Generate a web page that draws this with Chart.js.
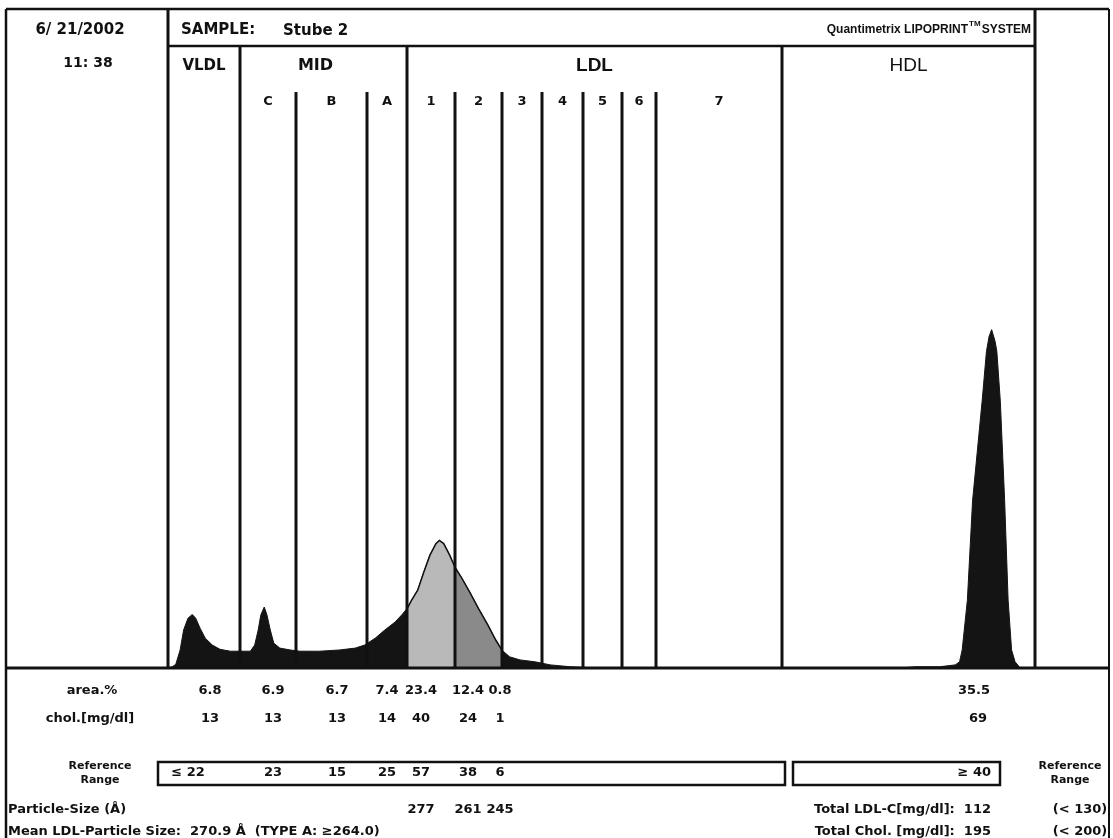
<!DOCTYPE html>
<html>
<head>
<meta charset="utf-8">
<script src="https://cdn.jsdelivr.net/npm/chart.js"></script>
<style>
    body { margin: 0; background: #fff; }
    #wrap { width: 1113px; height: 838px; position: relative; }
</style>
</head>
<body>
<div id="wrap"><canvas id="lipoChart"></canvas></div>
<script>
    // densitometer scan: relative mobility along the gel (0..100) and band intensity (0..100)
    var mobility = [0.0, 0.5, 0.9, 1.4, 1.8, 2.3, 2.8, 3.2, 3.7, 4.3, 5.1, 6.0, 7.2, 8.3, 9.5,
        10.0, 10.4, 10.7, 11.1, 11.4, 11.8, 12.2, 12.9, 14.1, 15.2, 17.5, 19.8, 21.6, 22.7,
        23.9, 25.0, 26.2, 27.0, 27.6, 28.1, 28.8, 29.5, 30.2, 30.9, 31.3, 31.8, 32.5, 33.1,
        33.9, 34.8, 35.8, 36.9, 37.8, 38.5, 39.4, 40.6, 42.3, 44.1, 46.4, 49.8, 84.4, 86.2,
        89.0, 90.8, 91.3, 91.6, 92.2, 92.8, 93.9, 94.4, 94.7, 95.0, 95.4, 95.6, 96.0, 96.5,
        96.9, 97.3, 97.7, 98.3, 100];
    var intensity = [0.0, 0.2, 0.6, 2.9, 6.1, 8.0, 8.6, 8.0, 6.4, 4.8, 3.7, 3.0, 2.7, 2.7, 2.7,
        3.7, 6.1, 8.5, 9.8, 8.6, 6.1, 4.0, 3.2, 2.9, 2.7, 2.7, 2.9, 3.2, 3.7,
        4.8, 6.1, 7.4, 8.6, 9.6, 10.9, 12.5, 15.4, 18.1, 20.0, 20.5, 20.0, 18.1, 16.2,
        14.4, 12.2, 9.6, 6.9, 4.5, 2.9, 1.8, 1.3, 1.0, 0.5, 0.2, 0.0, 0.0, 0.2,
        0.2, 0.5, 1.0, 2.9, 10.9, 26.9, 42.9, 50.9, 53.3, 54.4, 52.5, 50.9, 42.9, 26.9,
        10.9, 2.9, 1.0, 0.0, 0.0];

    // fraction borders, same units as mobility
    var fractionNames = ['VLDL', 'C', 'B', 'A', '1', '2', '3', '4', '5', '6', '7', 'HDL'];
    var fractionEdges = [0, 8.3, 14.8, 23.0, 27.6, 33.1, 38.5, 43.1, 47.9, 52.4, 56.3, 70.8, 100];

    // result table (VLDL, MID C, B, A, LDL 1, 2, 3) + HDL
    var areaPct = ['6.8', '6.9', '6.7', '7.4', '23.4', '12.4', '0.8'];
    var cholMg = ['13', '13', '13', '14', '40', '24', '1'];
    var refRange = ['\u2264 22', '23', '15', '25', '57', '38', '6'];
    var particleSize = ['', '', '', '', '277', '261', '245'];
    var hdlArea = '35.5';
    var hdlChol = '69';
    var hdlRef = '\u2265 40';
    var totalLdlC = 112, totalLdlRef = '(< 130)';
    var totalChol = 195, totalCholRef = '(< 200)';
    var meanLdlSize = '270.9';

    var points = mobility.map(function (m, i) { return { x: m, y: intensity[i] }; });
    function slice(from, to) {
        return points.filter(function (p) { return p.x >= from && p.x <= to; });
    }

    var colX = [210, 273, 337, 387, 421, 468, 500]; // table column centres (px)
    var hdlX = 974;
    var DV = '"DejaVu Sans", Verdana, sans-serif';
    var LS = '"Liberation Sans", Arial, sans-serif';

    var decor = {
        id: 'decor',
        afterDatasetsDraw: function (chart) {
            var ctx = chart.ctx;
            var xs = chart.scales.x;
            var area = chart.chartArea;
            var px = function (v) { return Math.round(xs.getPixelForValue(v)); };
            var L = 6, R = 1109, T = 9, base = area.bottom;

            ctx.save();
            ctx.strokeStyle = '#111';
            ctx.fillStyle = '#111';

            function line(x1, y1, x2, y2, w) {
                ctx.lineWidth = w;
                ctx.beginPath();
                ctx.moveTo(x1, y1);
                ctx.lineTo(x2, y2);
                ctx.stroke();
            }
            // outer frame + baseline
            line(L, T, R, T, 2.5);
            line(L, T, L, 838, 2.5);
            line(R, T, R, 838, 2);
            line(L, base, R, base, 3);
            // header box bottom
            line(px(0), area.top, px(100), area.top, 2.5);

            // fraction borders
            fractionEdges.forEach(function (e, i) {
                var top = area.top;
                if (i === 0 || i === fractionEdges.length - 1) top = T;
                else if (i !== 1 && i !== 4 && i !== 11) top = 92;
                line(px(e), top, px(e), base, 3);
            });

            function text(s, x, y, font, align) {
                ctx.font = font;
                ctx.textAlign = align || 'center';
                ctx.textBaseline = 'middle';
                ctx.fillText(s, x, y);
            }
            var B = 'bold 13px ' + DV;

            text('6/ 21/2002', 80, 30, 'bold 15px ' + DV);
            text('11: 38', 88, 63, 'bold 14px ' + DV);
            text('SAMPLE:', 181, 30, 'bold 15px ' + DV, 'left');
            text('Stube 2', 283, 31, 'bold 15px ' + DV, 'left');

            // brand, right aligned
            var brandR = px(100) - 4;
            ctx.font = 'bold 12px ' + LS;
            var w2 = ctx.measureText('SYSTEM').width;
            text('SYSTEM', brandR, 30, 'bold 12px ' + LS, 'right');
            ctx.font = 'bold 8px ' + LS;
            var wtm = ctx.measureText('TM').width;
            text('TM', brandR - w2 - 1, 24, 'bold 8px ' + LS, 'right');
            text('Quantimetrix LIPOPRINT', brandR - w2 - wtm - 2, 30, 'bold 12px ' + LS, 'right');

            // class headers
            var ht = 66;
            text('VLDL', (px(fractionEdges[0]) + px(fractionEdges[1])) / 2, ht, 'bold 15px ' + DV);
            text('MID', (px(fractionEdges[1]) + px(fractionEdges[4])) / 2 - 8, ht, 'bold 16px ' + DV);
            text('LDL', (px(fractionEdges[4]) + px(fractionEdges[11])) / 2, ht, 'bold 19px ' + LS);
            text('HDL', (px(fractionEdges[11]) + px(fractionEdges[12])) / 2, ht, '19px ' + LS);
            // subfraction labels
            for (var i = 1; i <= 10; i++) {
                text(fractionNames[i], (px(fractionEdges[i]) + px(fractionEdges[i + 1])) / 2, 102, 'bold 13px ' + DV);
            }

            // table
            var yA = 691, yC = 719, yR = 773, yP = 810, yM = 832;
            text('area.%', 92, yA, B);
            text('chol.[mg/dl]', 90, yC, B);
            text('Reference', 100, yR - 7, 'bold 11px ' + DV);
            text('Range', 100, yR + 7, 'bold 11px ' + DV);
            text('Reference', 1070, yR - 7, 'bold 11px ' + DV);
            text('Range', 1070, yR + 7, 'bold 11px ' + DV);
            colX.forEach(function (x, i) {
                text(areaPct[i], x, yA, B);
                text(cholMg[i], x, yC, B);
                text(refRange[i], i === 0 ? x - 22 : x, yR, B);
                if (particleSize[i]) text(particleSize[i], x, yP, B);
            });
            text(hdlArea, hdlX, yA, B);
            text(hdlChol, hdlX + 4, yC, B);
            text(hdlRef, 991, yR, B, 'right');
            ctx.lineWidth = 2.5;
            ctx.strokeRect(158, 762, 627, 23);
            ctx.strokeRect(793, 762, 207, 23);

            text('Particle-Size (\u00c5)', 8, yP, B, 'left');
            text('Mean LDL-Particle Size:  ' + meanLdlSize + ' \u00c5  (TYPE \u0391: \u2265264.0)', 8, yM, B, 'left');
            text('Total LDL-C[mg/dl]:  ' + totalLdlC, 991, yP, B, 'right');
            text('Total Chol. [mg/dl]:  ' + totalChol, 991, yM, B, 'right');
            text(totalLdlRef, 1080, yP, B);
            text(totalCholRef, 1080, yM, B);
            ctx.restore();
        }
    };

    var ctx = document.getElementById('lipoChart').getContext('2d');
    window.lipoChart = new Chart(ctx, {
        type: 'line',
        data: {
            datasets: [{
                label: 'LDL 1',
                data: slice(fractionEdges[4], fractionEdges[5]),
                backgroundColor: '#b9b9b9',
                borderColor: '#111',
                borderWidth: 1.5,
                fill: 'origin',
                order: 1
            }, {
                label: 'LDL 2',
                data: slice(fractionEdges[5], fractionEdges[6]),
                backgroundColor: '#8a8a8a',
                borderColor: '#111',
                borderWidth: 1.5,
                fill: 'origin',
                order: 1
            }, {
                label: 'Scan',
                data: points,
                backgroundColor: '#141414',
                borderColor: '#141414',
                borderWidth: 1,
                fill: 'origin',
                order: 2
            }]
        },
        options: {
            responsive: true,
            maintainAspectRatio: false,
            animation: false,
            elements: { point: { radius: 0 }, line: { tension: 0 } },
            layout: { padding: { left: 168, right: 78, top: 46, bottom: 170 } },
            plugins: { legend: { display: false }, tooltip: { enabled: false } },
            scales: {
                x: { type: 'linear', min: 0, max: 100, display: false },
                y: { min: 0, max: 100, display: false }
            }
        },
        plugins: [decor]
    });
</script>
</body>
</html>
